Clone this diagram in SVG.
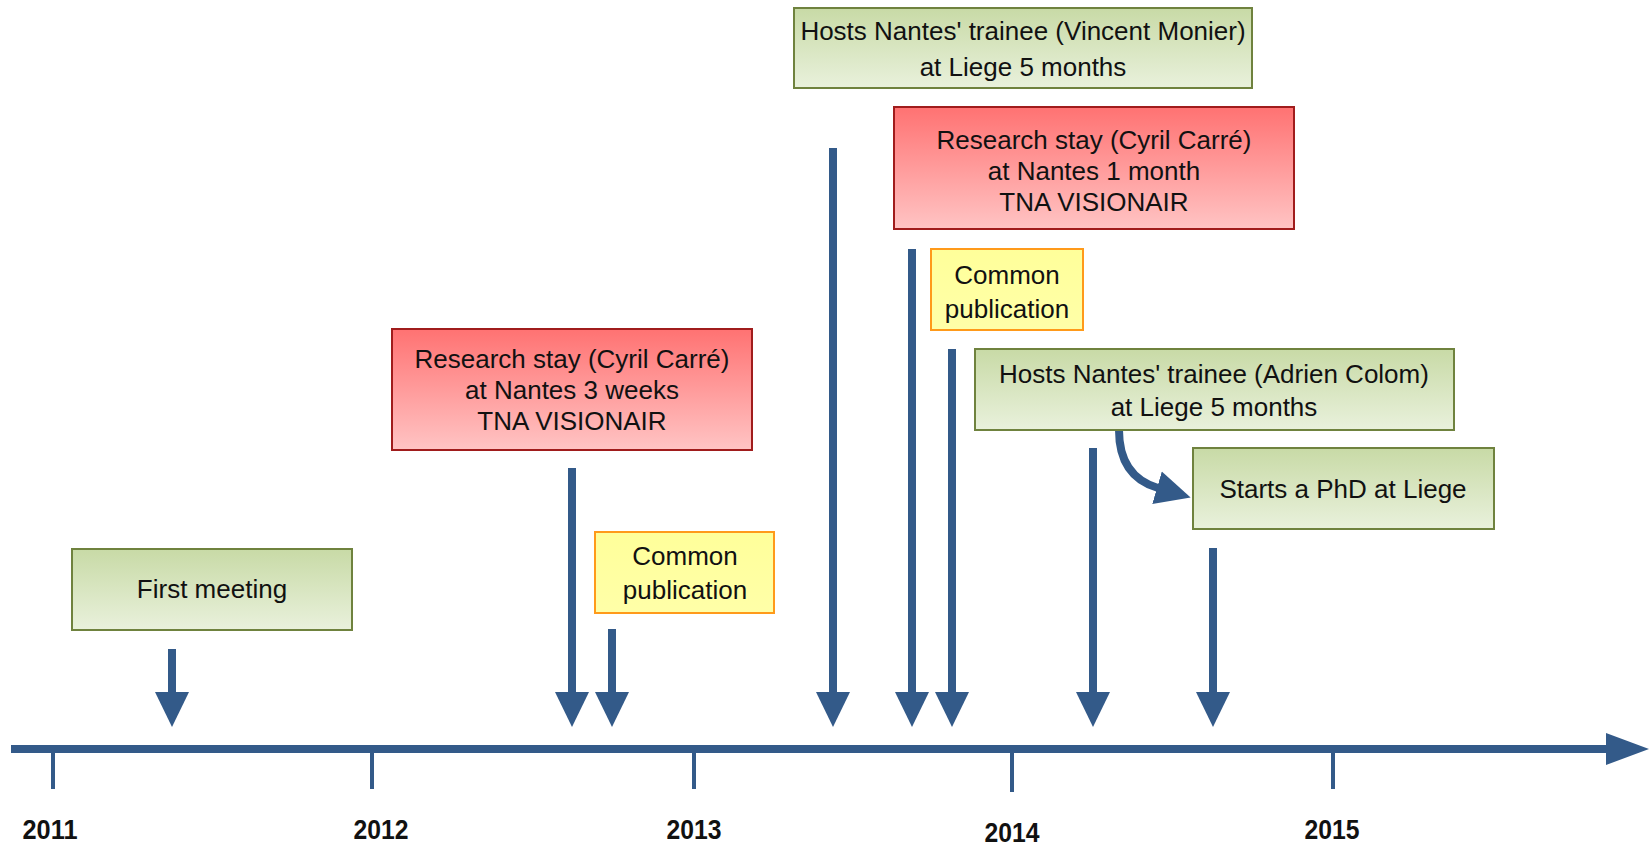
<svg xmlns="http://www.w3.org/2000/svg" width="1652" height="850" viewBox="0 0 1652 850">
<defs>
<linearGradient id="gGreen" x1="0" y1="0" x2="0" y2="1"><stop offset="0" stop-color="#c8daa6"/><stop offset="1" stop-color="#e9f1dc"/></linearGradient>
<linearGradient id="gRed" x1="0" y1="0" x2="0" y2="1"><stop offset="0" stop-color="#ff7272"/><stop offset="1" stop-color="#ffc4c4"/></linearGradient>
<linearGradient id="gYellow" x1="0" y1="0" x2="0" y2="1"><stop offset="0" stop-color="#ffff9a"/><stop offset="1" stop-color="#ffffa8"/></linearGradient>
<marker id="head" markerUnits="userSpaceOnUse" markerWidth="36" markerHeight="36" viewBox="0 0 36 36" refX="1" refY="18" orient="auto"><path d="M0,1 L35,18 L0,35 z" fill="#335a89"/></marker>
<marker id="axisHead" markerUnits="userSpaceOnUse" markerWidth="44" markerHeight="32" viewBox="0 0 44 32" refX="1" refY="16" orient="auto"><path d="M0,0 L43,16 L0,32 z" fill="#335a89"/></marker>
<style>
.green{fill:url(#gGreen);stroke:#6f823e;stroke-width:2}
.red{fill:url(#gRed);stroke:#a01c1c;stroke-width:2}
.yellow{fill:url(#gYellow);stroke:#ff9a1a;stroke-width:2}
.t{font-family:"Liberation Sans",Arial,sans-serif;font-size:26px;fill:#111;text-anchor:middle}
.yr{font-family:"Liberation Sans",Arial,sans-serif;font-size:27px;font-weight:bold;fill:#111;text-anchor:middle}
.arr{stroke:#335a89;stroke-width:8;fill:none;marker-end:url(#head)}
.tick{stroke:#335a89;stroke-width:4}
</style>
</defs>
<rect width="1652" height="850" fill="#ffffff"/>

<g id="timeline">
<line x1="11" y1="749" x2="1607" y2="749" stroke="#335a89" stroke-width="8" marker-end="url(#axisHead)"/>
<line class="tick" x1="53" y1="749" x2="53" y2="789"/>
<line class="tick" x1="372" y1="749" x2="372" y2="789"/>
<line class="tick" x1="694" y1="749" x2="694" y2="789"/>
<line class="tick" x1="1012" y1="749" x2="1012" y2="792"/>
<line class="tick" x1="1333" y1="749" x2="1333" y2="789"/>
<text class="yr" x="50" y="839" textLength="55" lengthAdjust="spacingAndGlyphs">2011</text>
<text class="yr" x="381" y="839" textLength="55" lengthAdjust="spacingAndGlyphs">2012</text>
<text class="yr" x="694" y="839" textLength="55" lengthAdjust="spacingAndGlyphs">2013</text>
<text class="yr" x="1012" y="842" textLength="55" lengthAdjust="spacingAndGlyphs">2014</text>
<text class="yr" x="1332" y="839" textLength="55" lengthAdjust="spacingAndGlyphs">2015</text>
</g>

<g id="connectors">
<line class="arr" x1="172" y1="649" x2="172" y2="693"/>
<line class="arr" x1="572" y1="468" x2="572" y2="693"/>
<line class="arr" x1="612" y1="629" x2="612" y2="693"/>
<line class="arr" x1="833" y1="148" x2="833" y2="693"/>
<line class="arr" x1="912" y1="249" x2="912" y2="693"/>
<line class="arr" x1="952" y1="349" x2="952" y2="693"/>
<line class="arr" x1="1093" y1="448" x2="1093" y2="693"/>
<line class="arr" x1="1213" y1="548" x2="1213" y2="693"/>
<path class="arr" d="M1119,430 C1119,464 1134,481 1158,488"/>
</g>

<g id="first-meeting">
<rect class="green" x="72" y="549" width="280" height="81"/>
<text class="t" x="212" y="598">First meeting</text>
</g>

<g id="research-stay-1">
<rect class="red" x="392" y="329" width="360" height="121"/>
<text class="t" x="572" y="368">Research stay (Cyril Carré)</text>
<text class="t" x="572" y="399">at Nantes 3 weeks</text>
<text class="t" x="572" y="430">TNA VISIONAIR</text>
</g>

<g id="common-publication-1">
<rect class="yellow" x="595" y="532" width="179" height="81"/>
<text class="t" x="685" y="565">Common</text>
<text class="t" x="685" y="599">publication</text>
</g>

<g id="hosts-vincent">
<rect class="green" x="794" y="8" width="458" height="80"/>
<text class="t" x="1023" y="40">Hosts Nantes' trainee (Vincent Monier)</text>
<text class="t" x="1023" y="76">at Liege 5 months</text>
</g>

<g id="research-stay-2">
<rect class="red" x="894" y="107" width="400" height="122"/>
<text class="t" x="1094" y="149">Research stay (Cyril Carré)</text>
<text class="t" x="1094" y="180">at Nantes 1 month</text>
<text class="t" x="1094" y="211">TNA VISIONAIR</text>
</g>

<g id="common-publication-2">
<rect class="yellow" x="931" y="249" width="152" height="81"/>
<text class="t" x="1007" y="284">Common</text>
<text class="t" x="1007" y="318">publication</text>
</g>

<g id="hosts-adrien">
<rect class="green" x="975" y="349" width="479" height="81"/>
<text class="t" x="1214" y="383">Hosts Nantes' trainee (Adrien Colom)</text>
<text class="t" x="1214" y="416">at Liege 5 months</text>
</g>

<g id="starts-phd">
<rect class="green" x="1193" y="448" width="301" height="81"/>
<text class="t" x="1343" y="498">Starts a PhD at Liege</text>
</g>
</svg>
